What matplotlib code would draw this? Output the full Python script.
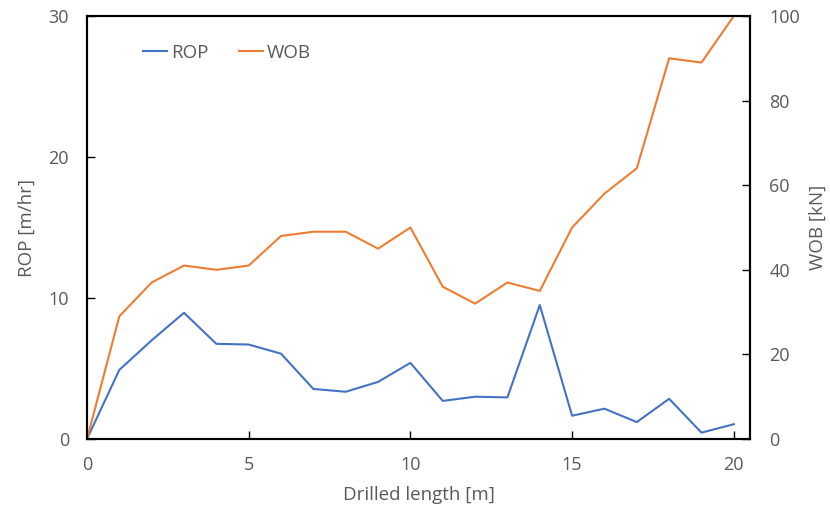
import matplotlib.pyplot as plt

plt.rcParams['font.family'] = ['Open Sans', 'DejaVu Sans']

length = list(range(21))
rop = [0, 4.9, 7.0, 8.95, 6.75, 6.7, 6.05, 3.55, 3.35, 4.05, 5.4,
       2.7, 3.0, 2.95, 9.5, 1.65, 2.15, 1.2, 2.85, 0.45, 1.05]
wob = [0, 29, 37, 41, 40, 41, 48, 49, 49, 45, 50,
       36, 32, 37, 35, 50, 58, 64, 90, 89, 100]

grey = '#595959'

fig = plt.figure(figsize=(8.3, 5.05), dpi=100)
ax = fig.add_axes([0.1048, 0.1307, 0.7988, 0.8376])
ax2 = ax.twinx()

l1, = ax.plot(length, rop, color='#4472C4', lw=1.5, label='ROP')
l2, = ax2.plot(length, wob, color='#ED7D31', lw=1.5, label='WOB')

ax.set_xlim(0, 20.5)
ax.set_ylim(0, 30)
ax2.set_ylim(0, 100)
ax.set_xticks([0, 5, 10, 15, 20])
ax.set_yticks([0, 10, 20, 30])
ax2.set_yticks([0, 20, 40, 60, 80, 100])

for a in (ax, ax2):
    a.tick_params(direction='in', labelsize=13, labelcolor=grey, length=6, width=1)
    for s in a.spines.values():
        s.set_linewidth(1.5)
        s.set_color('black')
ax.tick_params(axis='x', pad=12)
ax.tick_params(axis='y', pad=13)
ax2.tick_params(axis='y', pad=14)

ax.set_xlabel('Drilled length [m]', fontsize=13.5, color=grey, labelpad=9)
ax.set_ylabel('ROP [m/hr]', fontsize=13.5, color=grey, labelpad=9)
ax2.set_ylabel('WOB [kN]', fontsize=13.5, color=grey, labelpad=6)

ax.legend(handles=[l1, l2], loc='center left', bbox_to_anchor=(0.0845, 0.9125),
          ncol=2, frameon=False, fontsize=13.5, labelcolor=grey,
          borderpad=0, borderaxespad=0,
          handlelength=1.27, handletextpad=0.22, columnspacing=1.65)

fig.savefig('out.png', dpi=100)
